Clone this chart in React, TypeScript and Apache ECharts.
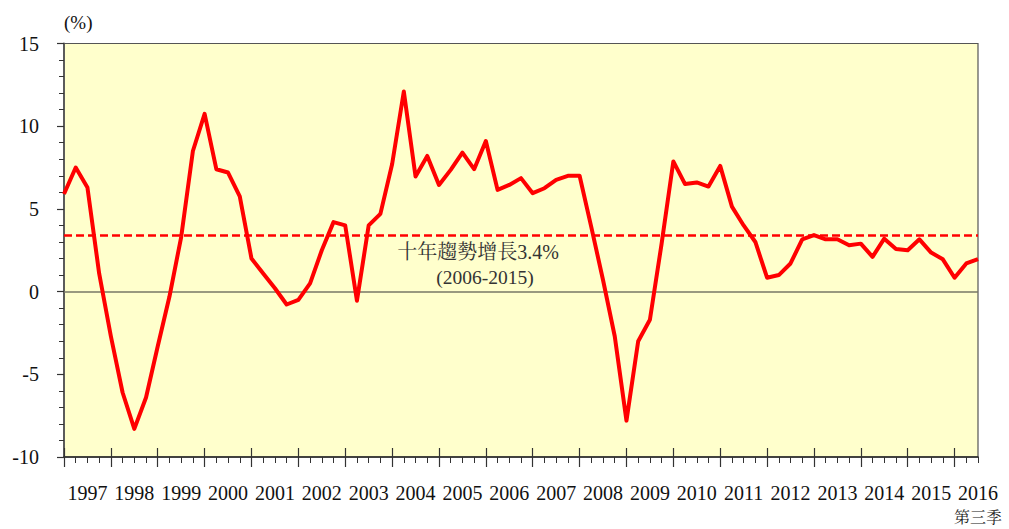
import React, { useEffect, useRef } from "react";
import * as echarts from "echarts";

const years = [
  "1997", "1998", "1999", "2000", "2001", "2002", "2003", "2004", "2005", "2006",
  "2007", "2008", "2009", "2010", "2011", "2012", "2013", "2014", "2015", "2016",
];
const quarters = ["Q1", "Q2", "Q3", "Q4"];
const lastQuarterLabel = "第三季";

// Real GDP growth, year-on-year (%), 1997 Q1 - 2016 Q3
const growth = [
  5.9, 7.5, 6.3, 1.1,
  -2.7, -6.1, -8.3, -6.4,
  -3.3, -0.3, 3.3, 8.5,
  10.75, 7.4, 7.2, 5.75,
  2.0, 1.1, 0.2, -0.78,
  -0.5, 0.5, 2.5, 4.2,
  4.0, -0.55, 4.0, 4.7,
  7.7, 12.1, 6.96, 8.2,
  6.45, 7.36, 8.4, 7.4,
  9.1, 6.15, 6.45, 6.86,
  5.95, 6.25, 6.76, 7.0,
  7.0, 3.9, 0.7, -2.7,
  -7.8, -3.0, -1.7, 2.9,
  7.87, 6.5, 6.6, 6.35,
  7.6, 5.14, 4.0, 3.0,
  0.84, 1.0, 1.7, 3.16,
  3.42, 3.16, 3.16, 2.8,
  2.9, 2.1, 3.2, 2.58,
  2.5, 3.16, 2.36, 1.95,
  0.84, 1.7, 1.97,
];

const trendValue = 3.4;
const trendText = "十年趨勢增長3.4%";
const trendPeriod = "(2006-2015)";
const unitText = "(%)";

const categories: string[] = [];
years.forEach((y) => quarters.forEach((q) => categories.push(y + q)));
const cats = categories.slice(0, growth.length);

const FONT = "'Liberation Serif', 'Times New Roman', 'Noto Serif CJK TC', 'Noto Sans CJK TC', serif";

export default function App() {
  const ref = useRef<HTMLDivElement>(null);
  useEffect(() => {
    if (!ref.current) return;
    const chart = echarts.init(ref.current, undefined, { renderer: "svg" });
    const baseX = {
      type: "category" as const,
      data: cats,
      boundaryGap: false,
      position: "bottom" as const,
    };
    chart.setOption({
      animation: false,
      backgroundColor: "#ffffff",
      textStyle: { fontFamily: FONT },
      grid: {
        left: 64,
        right: 31,
        top: 43.5,
        bottom: 72,
        show: true,
        backgroundColor: "#FFFFCC",
        borderColor: "#555555",
        borderWidth: 1.2,
      },
      xAxis: [
        {
          ...baseX,
          axisLine: { show: true, onZero: false, lineStyle: { color: "#222", width: 1.5 } },
          axisTick: { show: true, interval: 0, length: 6, lineStyle: { color: "#333", width: 1 } },
          axisLabel: {
            interval: (i: number) => i % 4 === 2,
            margin: 24,
            formatter: (v: string, i: number) =>
              i === cats.length - 1
                ? "{y|" + v.slice(0, 4) + "}\n{q|" + lastQuarterLabel + "}"
                : "{y|" + v.slice(0, 4) + "}",
            rich: {
              y: { fontFamily: FONT, fontSize: 20, color: "#111", lineHeight: 24 },
              q: { fontFamily: FONT, fontSize: 16, color: "#222", lineHeight: 24 },
            },
          },
          splitLine: { show: false },
        },
        {
          ...baseX,
          axisLine: { show: false, onZero: false },
          axisTick: { show: true, interval: (i: number) => i % 4 === 0, length: 10, lineStyle: { color: "#333", width: 1.2 } },
          axisLabel: { show: false },
          splitLine: { show: false },
        },
        {
          ...baseX,
          axisLine: { show: false, onZero: false },
          axisTick: { show: true, inside: true, interval: (i: number) => i % 4 === 0, length: 9, lineStyle: { color: "#333", width: 1.2 } },
          axisLabel: { show: false },
          splitLine: { show: false },
        },
      ],
      yAxis: {
        type: "value",
        min: -10,
        max: 15,
        interval: 5,
        axisLine: { show: true, lineStyle: { color: "#555", width: 1.8 } },
        axisTick: { show: true, length: 7, lineStyle: { color: "#333", width: 1.2 } },
        minorTick: { show: true, splitNumber: 5, length: 5, lineStyle: { color: "#333", width: 1 } },
        axisLabel: { margin: 25, fontFamily: FONT, fontSize: 20, color: "#111" },
        splitLine: { show: false },
      },
      graphic: [
        {
          type: "text",
          left: 64,
          top: 13,
          style: { text: unitText, font: "19px " + FONT, fill: "#111" },
        },
        {
          type: "text",
          x: 478,
          y: 252,
          style: {
            text: trendText,
            font: "20px " + FONT,
            fill: "#333",
            textAlign: "center",
            textVerticalAlign: "middle",
          },
        },
        {
          type: "text",
          x: 485,
          y: 277,
          style: {
            text: trendPeriod,
            font: "19.5px " + FONT,
            fill: "#333",
            textAlign: "center",
            textVerticalAlign: "middle",
          },
        },
      ],
      series: [
        {
          type: "line",
          data: growth,
          xAxisIndex: 0,
          symbol: "none",
          lineStyle: { color: "#FF0000", width: 4, join: "round" },
          z: 5,
          markLine: {
            silent: true,
            symbol: "none",
            label: { show: false },
            data: [
              { yAxis: 0, lineStyle: { color: "#777766", width: 1.5, type: "solid" } },
              { yAxis: trendValue, lineStyle: { color: "#FF0000", width: 2.5, type: [8, 4] } },
            ],
          },
        },
      ],
    });
    return () => chart.dispose();
  }, []);
  return (
    <div
      ref={ref}
      style={{ position: "fixed", left: 0, top: 0, width: 1009, height: 529 }}
    />
  );
}
